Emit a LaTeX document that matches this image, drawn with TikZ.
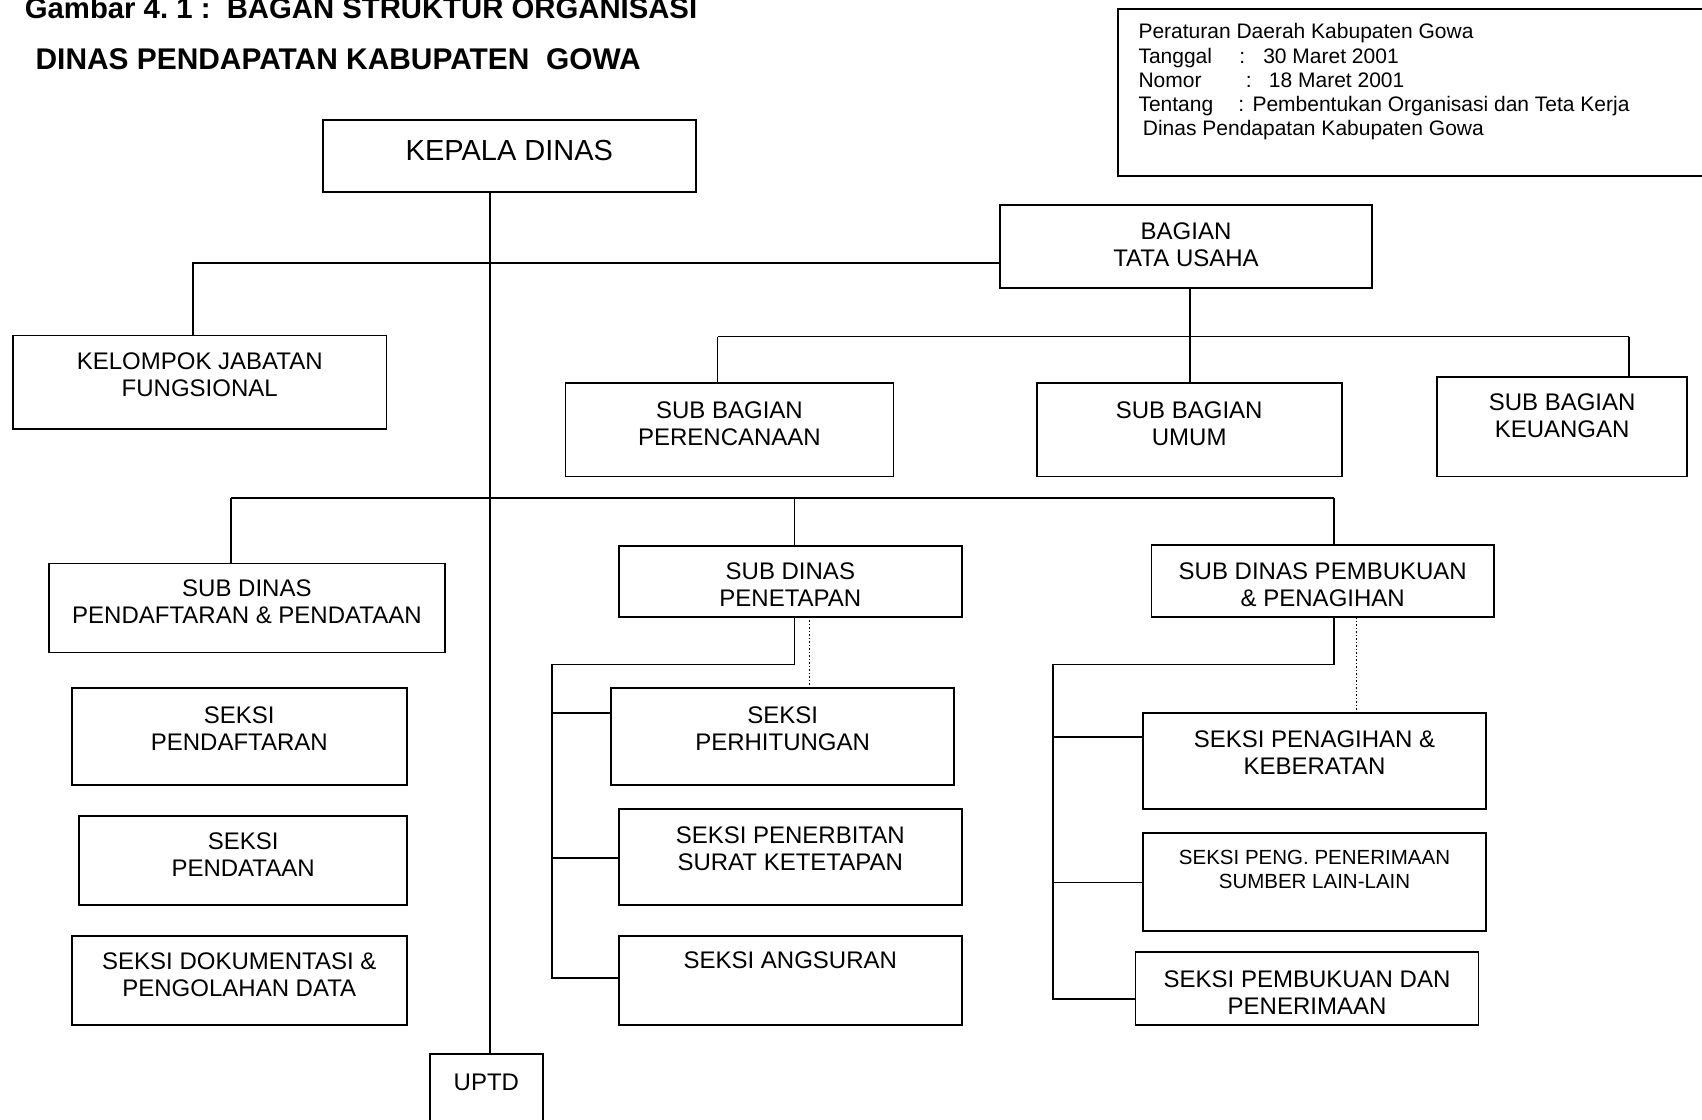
\documentclass[tikz,border=0pt]{standalone}
\usepackage{fontspec}
\setmainfont{Liberation Sans}
\newcommand\obox[7]{%
  \node[orgbox, minimum width={(#4-#2)*1pt}, minimum height={(#5-#3)*1pt}] (#1) at ({(#2+#4)/2},{(#3+#5)/2}) {};
  \node[lbl] (#1-t) at ({(#2+#4)/2},{#6-8.6}) {#7};
}
\begin{document}
\frenchspacing
\begin{tikzpicture}[x=1pt,y=-1pt,line width=1.8pt,
  orgbox/.style={draw, rectangle, inner sep=0pt, outer sep=0pt, line width=1.8pt},
  lbl/.style={inner sep=0pt, align=center, anchor=north, font=\fontsize{24}{27}\selectfont},
  conn/.style={line width=1.8pt},
  dotline/.style={line width=1.5pt, dash pattern=on 1.5pt off 2pt},
  ttl/.style={anchor=base west, inner sep=0pt, font=\bfseries\fontsize{29.3}{29.3}\selectfont}
]
\useasboundingbox (0,0) rectangle (1702,1119);
\clip (0,0) rectangle (1702,1119);

% titles
\node[ttl] (title1) at (24,18.5) {Gambar 4. 1 :\ \ BAGAN STRUKTUR ORGANISASI};
\node[ttl, font=\bfseries\fontsize{29.9}{29.9}\selectfont] (title2) at (34.7,69) {DINAS PENDAPATAN KABUPATEN\ \ GOWA};

% note box
\node[orgbox, anchor=north west, minimum width=600pt, minimum height=167.3pt] (note) at (1118,8.7) {};
\node[anchor=north west, inner sep=0pt, align=left, font=\fontsize{21}{24.2}\selectfont] (notetxt) at (1137.6,22.7)
 {Peraturan Daerah Kabupaten Gowa\\
  \makebox[101pt][l]{Tanggal}\makebox[23.8pt][l]{:}30 Maret 2001\\
  \makebox[107.4pt][l]{Nomor}\makebox[23pt][l]{:}18 Maret 2001\\
  \makebox[99.9pt][l]{Tentang}\makebox[14.1pt][l]{:}Pembentukan Organisasi dan Teta Kerja\\
  \hspace*{4.4pt}Dinas Pendapatan Kabupaten Gowa};

% head
\node[orgbox, minimum width=373.3pt, minimum height=71.7pt] (kd) at (509.35,155.85) {};
\node[anchor=base, inner sep=0pt, font=\fontsize{29}{29}\selectfont] (kd-t) at (509.35,160) {KEPALA DINAS};

\obox{tu}{1000}{205}{1372}{288}{230}{BAGIAN\\TATA USAHA}
\obox{kjf}{13}{335.5}{386.5}{429}{360.4}{KELOMPOK JABATAN\\FUNGSIONAL}
\obox{sbp}{565.5}{383.2}{893.4}{476.5}{409.2}{SUB BAGIAN\\PERENCANAAN}
\obox{sbu}{1036.7}{383.2}{1341.7}{476.5}{409.2}{SUB BAGIAN\\UMUM}
\obox{sbk}{1437.2}{376.7}{1687}{476.5}{401.6}{SUB BAGIAN\\KEUANGAN}
\obox{sdp}{48.8}{563.4}{445}{652.4}{587.3}{SUB DINAS\\PENDAFTARAN \& PENDATAAN}
\obox{sdt}{619}{545.7}{961.7}{616.7}{570}{SUB DINAS\\PENETAPAN}
\obox{sdb}{1151.5}{545}{1494}{617}{570}{SUB DINAS PEMBUKUAN\\\& PENAGIHAN}
\obox{s1}{71.6}{688.2}{407}{784.8}{714.3}{SEKSI\\PENDAFTARAN}
\obox{s2}{79.2}{816.3}{407}{905.3}{840.2}{SEKSI\\PENDATAAN}
\obox{s3}{71.6}{935.7}{407}{1024.7}{960.7}{SEKSI DOKUMENTASI \&\\PENGOLAHAN DATA}
\obox{s4}{611.1}{688.2}{954.2}{784.8}{714.3}{SEKSI\\PERHITUNGAN}
\obox{s5}{618.7}{808.7}{961.8}{905.3}{834.8}{SEKSI PENERBITAN\\SURAT KETETAPAN}
\obox{s6}{618.7}{935.7}{961.8}{1024.7}{959.6}{SEKSI ANGSURAN}
\obox{s7}{1143}{713.2}{1486}{808.7}{738.1}{SEKSI PENAGIHAN \&\\KEBERATAN}
\node[orgbox, minimum width=343pt, minimum height=98pt] (s8) at (1314.5,881.6) {};
\node[lbl, font=\fontsize{20.5}{24}\selectfont] (s8-t) at (1314.5,849.5) {SEKSI PENG. PENERIMAAN\\SUMBER LAIN-LAIN};
\obox{s9}{1135.5}{952}{1478.5}{1024.7}{978}{SEKSI PEMBUKUAN DAN\\PENERIMAAN}
\obox{uptd}{430}{1054}{542.8}{1135}{1081.3}{UPTD}

% connectors
\coordinate (mx) at (490.3,0);
\draw[conn] (kd.south -| mx) -- (uptd.north -| mx);

\coordinate (k1) at (193,262.7);
\draw[conn] (tu.west |- k1) -- (k1) -- (k1 |- kjf.north);

\coordinate (b1l) at (717.5,336.5);
\coordinate (b1m) at (1189.7,336.5);
\coordinate (b1r) at (1629,336.5);
\draw[conn] (b1m |- tu.south) -- (b1m);
\draw[conn] (b1l) -- (b1r);
\draw[conn] (b1l) -- (b1l |- sbp.north);
\draw[conn] (b1m) -- (b1m |- sbu.north);
\draw[conn] (b1r) -- (b1r |- sbk.north);

\coordinate (b2l) at (231,498.2);
\coordinate (b2m) at (794.4,498.2);
\coordinate (b2r) at (1334,498.2);
\draw[conn] (b2l) -- (b2r);
\draw[conn] (b2l) -- (b2l |- sdp.north);
\draw[conn] (b2m) -- (b2m |- sdt.north);
\draw[conn] (b2r) -- (b2r |- sdb.north);

% penetapan
\coordinate (p1) at (794.4,664.5);
\coordinate (p2) at (552.3,664.5);
\coordinate (p4) at (552.3,713);
\coordinate (p5) at (552.3,857.6);
\coordinate (p6) at (552.3,978);
\draw[conn] (p1 |- sdt.south) -- (p1) -- (p2) -- (p6) -- (p6 -| s6.west);
\draw[conn] (p4) -- (p4 -| s4.west);
\draw[conn] (p5) -- (p5 -| s5.west);
\coordinate (d1) at (809.6,0);
\draw[dotline] (d1 |- sdt.south) -- (d1 |- s4.north);

% pembukuan
\coordinate (q1) at (1334,664.5);
\coordinate (q2) at (1053,664.5);
\coordinate (q7) at (1053,737);
\coordinate (q8) at (1053,882.5);
\coordinate (q9) at (1053,998.7);
\draw[conn] (q1 |- sdb.south) -- (q1) -- (q2) -- (q9) -- (q9 -| s9.west);
\draw[conn] (q7) -- (q7 -| s7.west);
\draw[conn] (q8) -- (q8 -| s8.west);
\coordinate (d2) at (1356.7,0);
\draw[dotline] (d2 |- sdb.south) -- (d2 |- s7.north);
\end{tikzpicture}
\end{document}
